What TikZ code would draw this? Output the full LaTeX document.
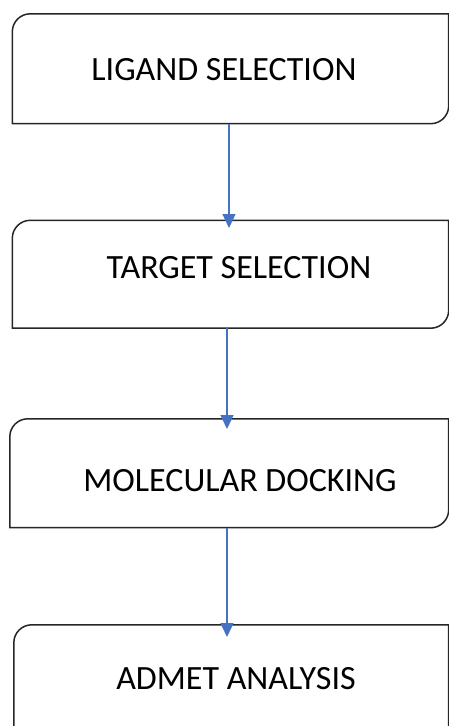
\documentclass[tikz,border=0pt]{standalone}
\usepackage{fontspec}
\setmainfont{Carlito}
\usetikzlibrary{arrows.meta}
\definecolor{arrowblue}{HTML}{4472C4}
\definecolor{boxgray}{HTML}{262626}
\tikzset{
  x=1pt, y=1pt,
  boxarea/.style={draw=none, inner sep=0pt, minimum width=#1},
  boxline/.style={draw=boxgray, line width=1.5pt},
  flow/.style={draw=arrowblue, line width=1.3pt, -{Triangle[length=14pt,width=13pt]}},
  lbl/.style={font=\fontsize{34}{38}\selectfont, text=black, inner sep=0pt}
}
\newcommand{\flowbox}[1]{%
  \draw[boxline] (#1.south west) -- ([yshift=-18pt]#1.north west)
    arc[start angle=180, end angle=90, radius=18pt]
    -- (#1.north east) -- ([yshift=18pt]#1.south east)
    arc[start angle=0, end angle=-90, radius=18pt] -- cycle;}
\begin{document}
\begin{tikzpicture}
\useasboundingbox (0,0) rectangle (449,-726);
\clip (0,0) rectangle (449,-726);
% box areas
\node[boxarea=436pt, minimum height=109.5pt] (b1) at (230.5,-68.75) {};
\node[boxarea=436pt, minimum height=107.5pt] (b2) at (230.5,-274.25) {};
\node[boxarea=438.5pt, minimum height=108.5pt] (b3) at (229.25,-473.25) {};
\node[boxarea=434.5pt, minimum height=120pt] (b4) at (231.25,-685) {};
\flowbox{b1}
\flowbox{b2}
\flowbox{b3}
\flowbox{b4}
% labels
\node[lbl] (t1) at (224,-70) {LIGAND SELECTION};
\node[lbl] (t2) at (239,-268) {TARGET SELECTION};
\node[lbl] (t3) at (240,-481) {MOLECULAR DOCKING};
\node[lbl] (t4) at (236,-679) {ADMET ANALYSIS};
% arrow end points
\coordinate (e1) at (229,-228);
\coordinate (e2) at (227,-429);
\coordinate (e3) at (227,-637);
\draw[flow] (e1 |- b1.south) -- (e1);
\draw[flow] (e2 |- b2.south) -- (e2);
\draw[flow] (e3 |- b3.south) -- (e3);
\end{tikzpicture}
\end{document}
